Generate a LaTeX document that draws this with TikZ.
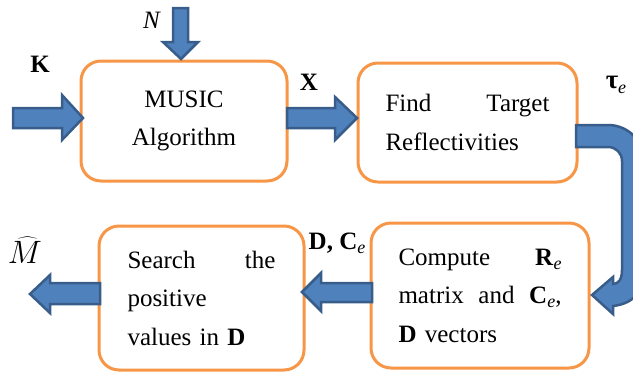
\documentclass[tikz,border=0pt]{standalone}
\usepackage{fontspec}
\usepackage{graphicx}
\setmainfont{Liberation Serif}
\definecolor{boxorange}{HTML}{F79646}
\definecolor{arrfill}{HTML}{4F81BD}
\definecolor{arrline}{HTML}{385D8A}
\newcommand\lowe{\raisebox{-0.35ex}{\fontsize{18}{18}\selectfont\itshape e}}
\begin{document}
\begin{tikzpicture}[x=1pt,y=-1pt,
  procbox/.style={draw=boxorange, line width=3pt, rounded corners=20pt, fill=white,
    inner sep=0pt, font=\fontsize{25}{38.5}\selectfont},
  blockarrow/.style={fill=arrfill, draw=arrline, line width=2.5pt, line join=miter},
  lbl/.style={inner sep=0pt, font=\fontsize{25}{28}\selectfont}]
\useasboundingbox (0,0) rectangle (633,373);

\node[procbox, minimum width=206pt, minimum height=120pt, align=center] (b1) at (184,121) {MUSIC\\Algorithm};
\node[procbox, minimum width=219pt, minimum height=119pt, text width=164pt, align=left] (b2) at (467.5,122.5)
  {\makebox[164pt][s]{Find\hfill Target}\\Reflectivities};
\node[procbox, minimum width=205pt, minimum height=144pt, text width=148pt, align=left] (b3) at (201.5,298)
  {\makebox[148pt][s]{Search\hfill the}\\positive\\values in \textbf{D}};
\node[procbox, minimum width=218pt, minimum height=145pt, text width=163pt, align=left] (b4) at (480,295.5)
  {\makebox[163pt][s]{Compute\hfill\textbf{R}\lowe}\\\makebox[163pt][s]{matrix\hfill and\hfill\textbf{C}\lowe,}\\\textbf{D} vectors};

\node[lbl] (lK) at (40,64) {\textbf{K}};
\node[lbl] (lN) at (152,20) {\textit{N}};
\node[lbl] (lX) at (309,82) {\textbf{X}};
\node[lbl] (lt) at (616,85) {\fontsize{27}{28}\selectfont\textbf{τ}\lowe};
\node[lbl] (lM) at (25,250) {\scalebox{1.3}{$\widehat{M}$}};
\node[lbl] (lD) at (337,243) {\textbf{D, C}\lowe};

% block arrows
\draw[blockarrow] (13,108) -- (62,108) -- (62,95) -- (83,118) -- (62,140) -- (62,128) -- (13,128) -- cycle;
\draw[blockarrow] (173,8) -- (188,8) -- (188,42) -- (198,42) -- (181,59) -- (163,42) -- (173,42) -- cycle;
\draw[blockarrow] (287,108) -- (335,108) -- (335,97) -- (357,118) -- (335,140) -- (335,128) -- (287,128) -- cycle;
\draw[blockarrow] (372,283) -- (321,283) -- (321,273) -- (302,292) -- (321,311) -- (321,302) -- (372,302) -- cycle;
\draw[blockarrow] (100,283) -- (50,283) -- (50,275) -- (30,294) -- (50,313) -- (50,304) -- (100,304) -- cycle;
\draw[blockarrow] (576,125) -- (608,125) .. controls (628,125) and (644,141) .. (644,161)
  -- (644,270) .. controls (644,295) and (630,304) .. (613,306)
  -- (613,314) -- (592,295) -- (613,277) -- (613,284)
  .. controls (618,284) and (622,280) .. (622,270)
  -- (622,161) .. controls (622,153) and (616,147) .. (608,147) -- (576,147) -- cycle;
\end{tikzpicture}
\end{document}
